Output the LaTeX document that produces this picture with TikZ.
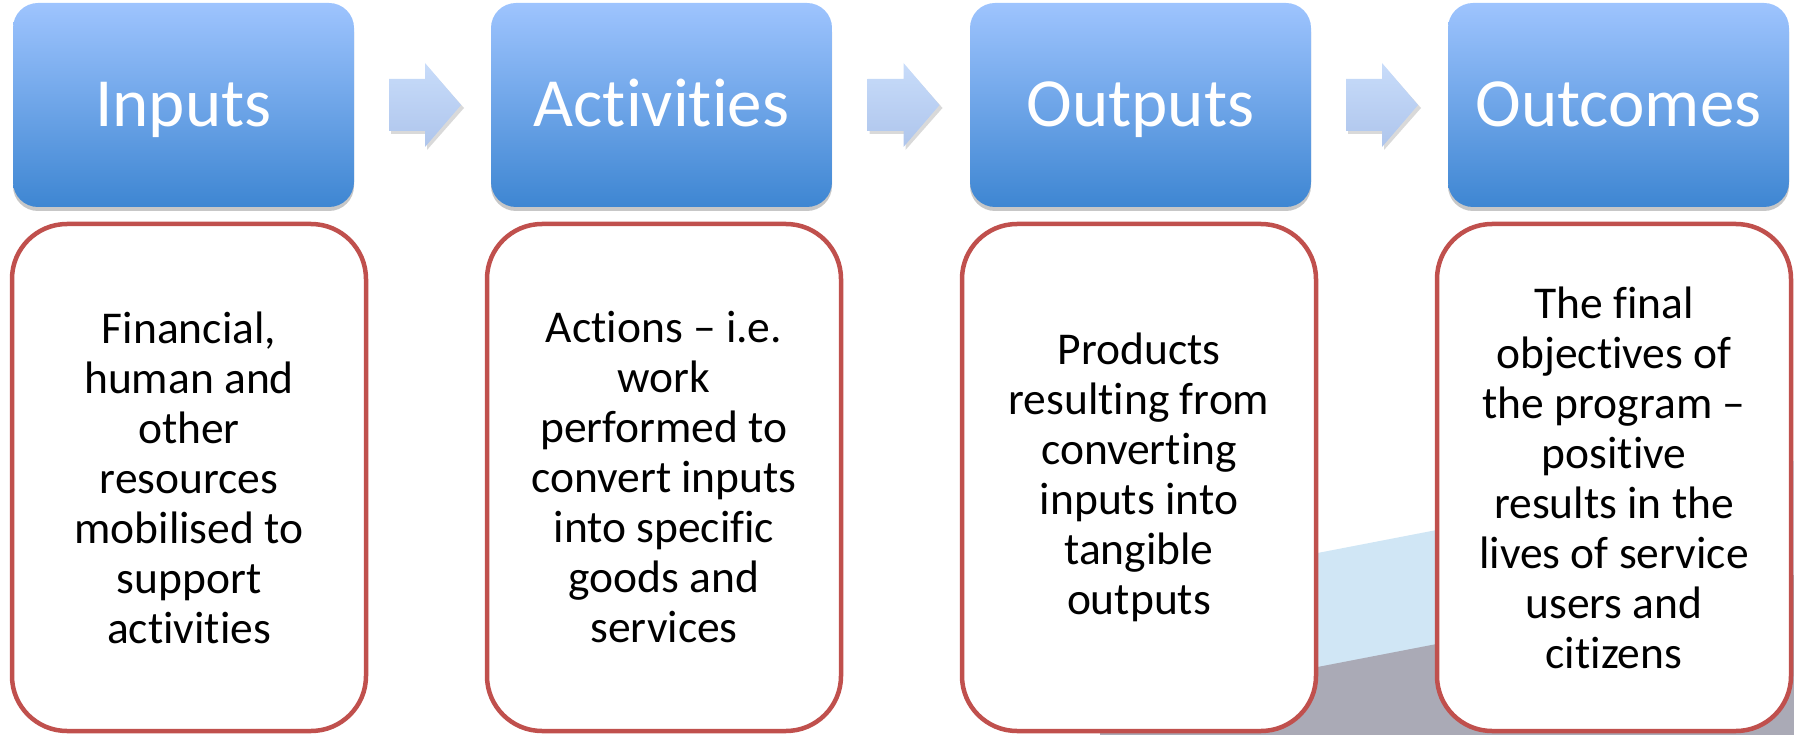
\documentclass[tikz,border=0pt]{standalone}
\usepackage{fontspec}
\setmainfont{Carlito}[Ligatures={NoCommon,NoRare,NoDiscretionary}]
\usetikzlibrary{shadows,calc}
\definecolor{bluetop}{RGB}{158,196,254}
\definecolor{bluebot}{RGB}{62,134,210}
\definecolor{arrtop}{RGB}{200,220,250}
\definecolor{arrbot}{RGB}{174,197,236}
\definecolor{redline}{RGB}{192,80,77}
\definecolor{bandblue}{RGB}{208,230,245}
\definecolor{bandgray}{RGB}{170,170,182}
\tikzset{
  titlebox/.style={rounded corners=25pt, top color=bluetop, bottom color=bluebot,
    minimum width=341pt, minimum height=204pt, inner sep=0pt, text=white,
    text height=50pt, text depth=6pt,
    font=\fontsize{69}{80}\selectfont,
    drop shadow={shadow xshift=0pt, shadow yshift=-4pt, fill=black, opacity=0.22}},
  descbox/.style={rounded corners=55pt, draw=redline, line width=4.5pt, fill=white,
    minimum width=354pt, minimum height=507pt, inner sep=0pt, align=center,
    text=black, font=\fontsize{45.5}{50}\selectfont},
  barrow/.pic={
    \fill[black,opacity=0.15] (-34,-23) -- (2,-23) -- (2,-39) -- (39,3) -- (2,45) -- (2,29) -- (-34,29) -- cycle;
    \shade[top color=arrtop, bottom color=arrbot] (-36,-26) -- (0,-26) -- (0,-42) -- (36,0) -- (0,42) -- (0,26) -- (-36,26) -- cycle;
  }
}
\begin{document}
\begin{tikzpicture}[x=1pt,y=-1pt]
\useasboundingbox (0,0) rectangle (1794,735);
% background bands
\fill[bandblue] (1100,595) -- (1794,461) -- (1794,735) -- (1100,735) -- cycle;
\fill[bandgray] (1100,709) -- (1794,575) -- (1794,735) -- (1100,735) -- cycle;
% description boxes
\node[descbox] (d1) at (189,477.5) {Financial,\\human and\\other\\resources\\mobilised to\\support\\activities};
\node[descbox] (d2) at (664,477.5) {Actions -- i.e.\\work\\performed to\\convert inputs\\into specific\\goods and\\services};
\node[descbox] (d3) at (1139,477.5) {Products\\resulting from\\converting\\inputs into\\tangible\\outputs};
\node[descbox] (d4) at (1614,477.5) {The final\\objectives of\\the program --\\positive\\results in the\\lives of service\\users and\\citizens};
% title boxes
\node[titlebox] (t1) at (183.5,105) {Inputs};
\node[titlebox] (t2) at (661.5,105) {Activities};
\node[titlebox] (t3) at (1140.5,105) {Outputs};
\node[titlebox] (t4) at (1618.5,105) {Outcomes};
% block arrows
\pic at ($(t1.east)!0.5!(t2.west)+(2.5,0)$) {barrow};
\pic at ($(t2.east)!0.5!(t3.west)+(2.5,0)$) {barrow};
\pic at ($(t3.east)!0.5!(t4.west)+(2.5,0)$) {barrow};
\end{tikzpicture}
\end{document}
